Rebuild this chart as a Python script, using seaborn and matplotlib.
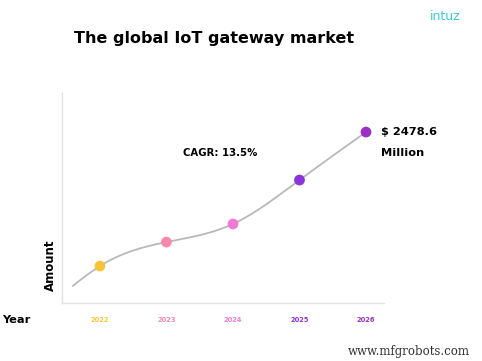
import matplotlib.pyplot as plt
import numpy as np
import pandas as pd
import seaborn as sns

# data (amount in $ million, illustrative scale)
years = [2022, 2023, 2024, 2025, 2026]
amounts = [1493.6, 1670.0, 1803.0, 2126.0, 2478.6]
year_colors = ['#F9C43A', '#F48AAE', '#F27AD2', '#8C34DB', '#9A30C4']
curve_start_year = 2021.59
curve_start_amount = 1347.0
cagr_label = 'CAGR: 13.5%'
value_label = '$ 2478.6'
unit_label = 'Million'


def natural_spline(xs, ys, n=300):
  # natural cubic spline through the control points
  x = np.asarray(xs, float)
  y = np.asarray(ys, float)
  k = len(x)
  h = np.diff(x)
  A = np.zeros((k, k))
  b = np.zeros(k)
  A[0, 0] = A[-1, -1] = 1
  for i in range(1, k - 1):
    A[i, i - 1] = h[i - 1]
    A[i, i] = 2 * (h[i - 1] + h[i])
    A[i, i + 1] = h[i]
    b[i] = 6 * ((y[i + 1] - y[i]) / h[i] - (y[i] - y[i - 1]) / h[i - 1])
  m = np.linalg.solve(A, b)
  xx = np.linspace(x[0], x[-1], n)
  idx = np.clip(np.searchsorted(x, xx) - 1, 0, k - 2)
  x0, x1 = x[idx], x[idx + 1]
  hh = x1 - x0
  t0 = x1 - xx
  t1 = xx - x0
  yy = (m[idx] * t0 ** 3 + m[idx + 1] * t1 ** 3) / (6 * hh) \
      + (y[idx] / hh - m[idx] * hh / 6) * t0 + (y[idx + 1] / hh - m[idx + 1] * hh / 6) * t1
  return xx, yy


sns.set_style('white')
plt.rcParams['font.family'] = ['DejaVu Sans']
plt.rcParams['text.color'] = 'black'

fig = plt.figure(figsize=(4.82, 3.61), dpi=100)
ax = fig.add_axes([0.1286, 0.1607, 0.668, 0.5817])

cx, cy = natural_spline([curve_start_year] + years, [curve_start_amount] + amounts)
curve = pd.DataFrame({'year': cx, 'amount': cy})
sns.lineplot(data=curve, x='year', y='amount', color='#B9B9B9', linewidth=1.3,
             sort=False, ax=ax)

points = pd.DataFrame({'year': years, 'amount': amounts, 'label': [str(y) for y in years]})
sns.scatterplot(data=points, x='year', y='amount', hue='label', palette=year_colors,
                s=60, edgecolor='none', legend=False, zorder=3, ax=ax)

ax.set_xlim(2021.43, 2026.27)
ax.set_ylim(1222, 2766)
ax.set_xticks(years)
ax.set_xticklabels([str(y) for y in years], fontsize=4.8, fontweight='bold')
for lbl, c in zip(ax.get_xticklabels(), year_colors):
  lbl.set_color(c)
ax.tick_params(axis='x', length=0, pad=10)
ax.set_yticks([])
ax.set_xlabel('')
ax.set_ylabel('')
ax.spines[['top', 'right']].set_visible(False)
ax.spines[['left', 'bottom']].set_color('#E2E2E2')
ax.spines[['left', 'bottom']].set_linewidth(1.0)

ax.text(2022.0 + (183 - 100) / 66.5, 2766 - (153 - 93) / 210 * 1544, cagr_label,
        fontsize=7.3, fontweight='bold', va='center', ha='left')
ax.text(2026.23, 2478.6, value_label, fontsize=8.2, fontweight='bold',
        va='center', ha='left', clip_on=False)
ax.text(2026.23, 2478.6 - 21 / 210 * 1544, unit_label, fontsize=8.2, fontweight='bold',
        va='center', ha='left', clip_on=False)

fig.text(50 / 482, 1 - 265 / 361, 'Amount', rotation=90, fontsize=8.5, fontweight='bold',
         ha='center', va='center')
fig.text(2 / 482, 1 - 320 / 361, 'Year', fontsize=8.2, fontweight='bold',
         ha='left', va='center')
fig.text(214 / 482, 1 - 38 / 361, 'The global IoT gateway market', fontsize=11.5,
         fontweight='bold', ha='center', va='center')
fig.text(445 / 482, 1 - 16 / 361, 'intuz', fontsize=9, color='#3EC8DA',
         ha='center', va='center')
fig.text(470 / 482, 1 - 351 / 361, 'www.mfgrobots.com', fontsize=8.5, color='#333333',
         family='DejaVu Serif', ha='right', va='center')

fig.savefig('out.png', dpi=100)
